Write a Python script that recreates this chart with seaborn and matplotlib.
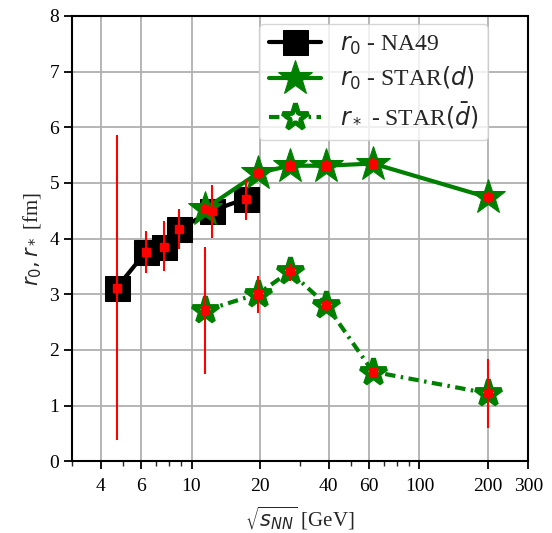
import numpy as np
import pandas as pd
import matplotlib
matplotlib.use("Agg")
import matplotlib.pyplot as plt
import seaborn as sns
from matplotlib.ticker import FixedLocator, NullFormatter, FixedFormatter

# ---- data ----
na49_x = [4.7, 6.3, 7.6, 8.8, 12.3, 17.3]
na49_y = [3.12, 3.76, 3.85, 4.17, 4.50, 4.72]
na49_lo = [0.38, 3.39, 3.41, 3.81, 4.02, 4.33]
na49_hi = [5.86, 4.14, 4.32, 4.53, 4.96, 5.08]

star_x = [11.5, 19.6, 27, 39, 62.4, 200]
stard_y = [4.54, 5.18, 5.31, 5.31, 5.35, 4.74]
stard_err = [0.10, 0.10, 0.10, 0.10, 0.10, 0.10]

stardbar_y = [2.71, 3.01, 3.41, 2.81, 1.61, 1.22]
stardbar_lo = [1.56, 2.67, 3.24, 2.70, 1.52, 0.59]
stardbar_hi = [3.85, 3.33, 3.57, 2.92, 1.70, 1.84]

xticks = [4, 6, 10, 20, 40, 60, 100, 200, 300]
xticklabels = ["4", "6", "10", "20", "40", "60", "100", "200", "300"]

sns.set_style("whitegrid")
plt.rcParams['font.family'] = ['Liberation Serif', 'DejaVu Serif']
plt.rcParams['mathtext.fontset'] = 'dejavusans'

fig = plt.figure(figsize=(5.52, 5.33), dpi=100)
ax = fig.add_axes([0.131, 0.1345, 0.826, 0.8355])

df_na = pd.DataFrame({"x": na49_x, "y": na49_y})
df_d = pd.DataFrame({"x": star_x, "y": stard_y})
df_db = pd.DataFrame({"x": star_x, "y": stardbar_y})

sns.lineplot(data=df_na, x="x", y="y", ax=ax, color="black", lw=3,
             marker="s", markersize=18, markeredgecolor="black", zorder=3)
sns.lineplot(data=df_d, x="x", y="y", ax=ax, color="green", lw=3,
             marker="*", markersize=26, markeredgecolor="green", zorder=3)
sns.lineplot(data=df_db, x="x", y="y", ax=ax, color="green", lw=3,
             linestyle=(0, (2.5, 1.3, 0.6, 1.3)),
             marker="*", markersize=20, markerfacecolor="white",
             markeredgecolor="green", markeredgewidth=3.5, zorder=3)

# error bars
na_err = [np.array(na49_y) - np.array(na49_lo), np.array(na49_hi) - np.array(na49_y)]
db_err = [np.array(stardbar_y) - np.array(stardbar_lo), np.array(stardbar_hi) - np.array(stardbar_y)]
for xs, ys, err in [(na49_x, na49_y, na_err), (star_x, stard_y, stard_err), (star_x, stardbar_y, db_err)]:
    ax.errorbar(xs, ys, yerr=err, fmt="s", color="red", ms=5.5, elinewidth=1.5,
                capsize=0, zorder=5)

ax.set_xscale("log")
ax.set_xlim(3, 300)
ax.set_ylim(0, 8)
ax.xaxis.set_major_locator(FixedLocator(xticks))
ax.xaxis.set_major_formatter(FixedFormatter(xticklabels))
ax.xaxis.set_minor_formatter(NullFormatter())
ax.set_yticks(range(0, 9))

ax.grid(True, which="major", color="#b0b0b0", lw=1.3)
ax.grid(False, which="minor")
ax.set_axisbelow(True)
for s in ax.spines.values():
    s.set_color("black")
    s.set_linewidth(1.5)
ax.tick_params(axis="both", which="major", direction="out", length=6, width=1.3,
               labelsize=14, colors="black", bottom=True, left=True)
ax.tick_params(axis="x", which="major", pad=6)
ax.tick_params(axis="x", which="minor", direction="out", length=3.5, width=1.0,
               bottom=True)

ax.set_xlabel(r"$\sqrt{s_{NN}}$ [GeV]", fontsize=15, labelpad=7)
ax.set_ylabel(r"$r_0, r_*$ [fm]", fontsize=15)

handles = ax.get_lines()[:3]
ax.legend(handles, [r"$r_0$ - NA49", r"$r_0$ - STAR$(d)$", r"$r_*$ - STAR$(\bar{d})$"],
          loc="upper right", bbox_to_anchor=(0.911, 0.982), borderaxespad=0,
          fontsize=17, frameon=True, framealpha=0.8,
          edgecolor="#cccccc", handlelength=2.2, borderpad=0.4, labelspacing=0.35,
          handletextpad=0.8)

fig.savefig("out.png", dpi=100)
